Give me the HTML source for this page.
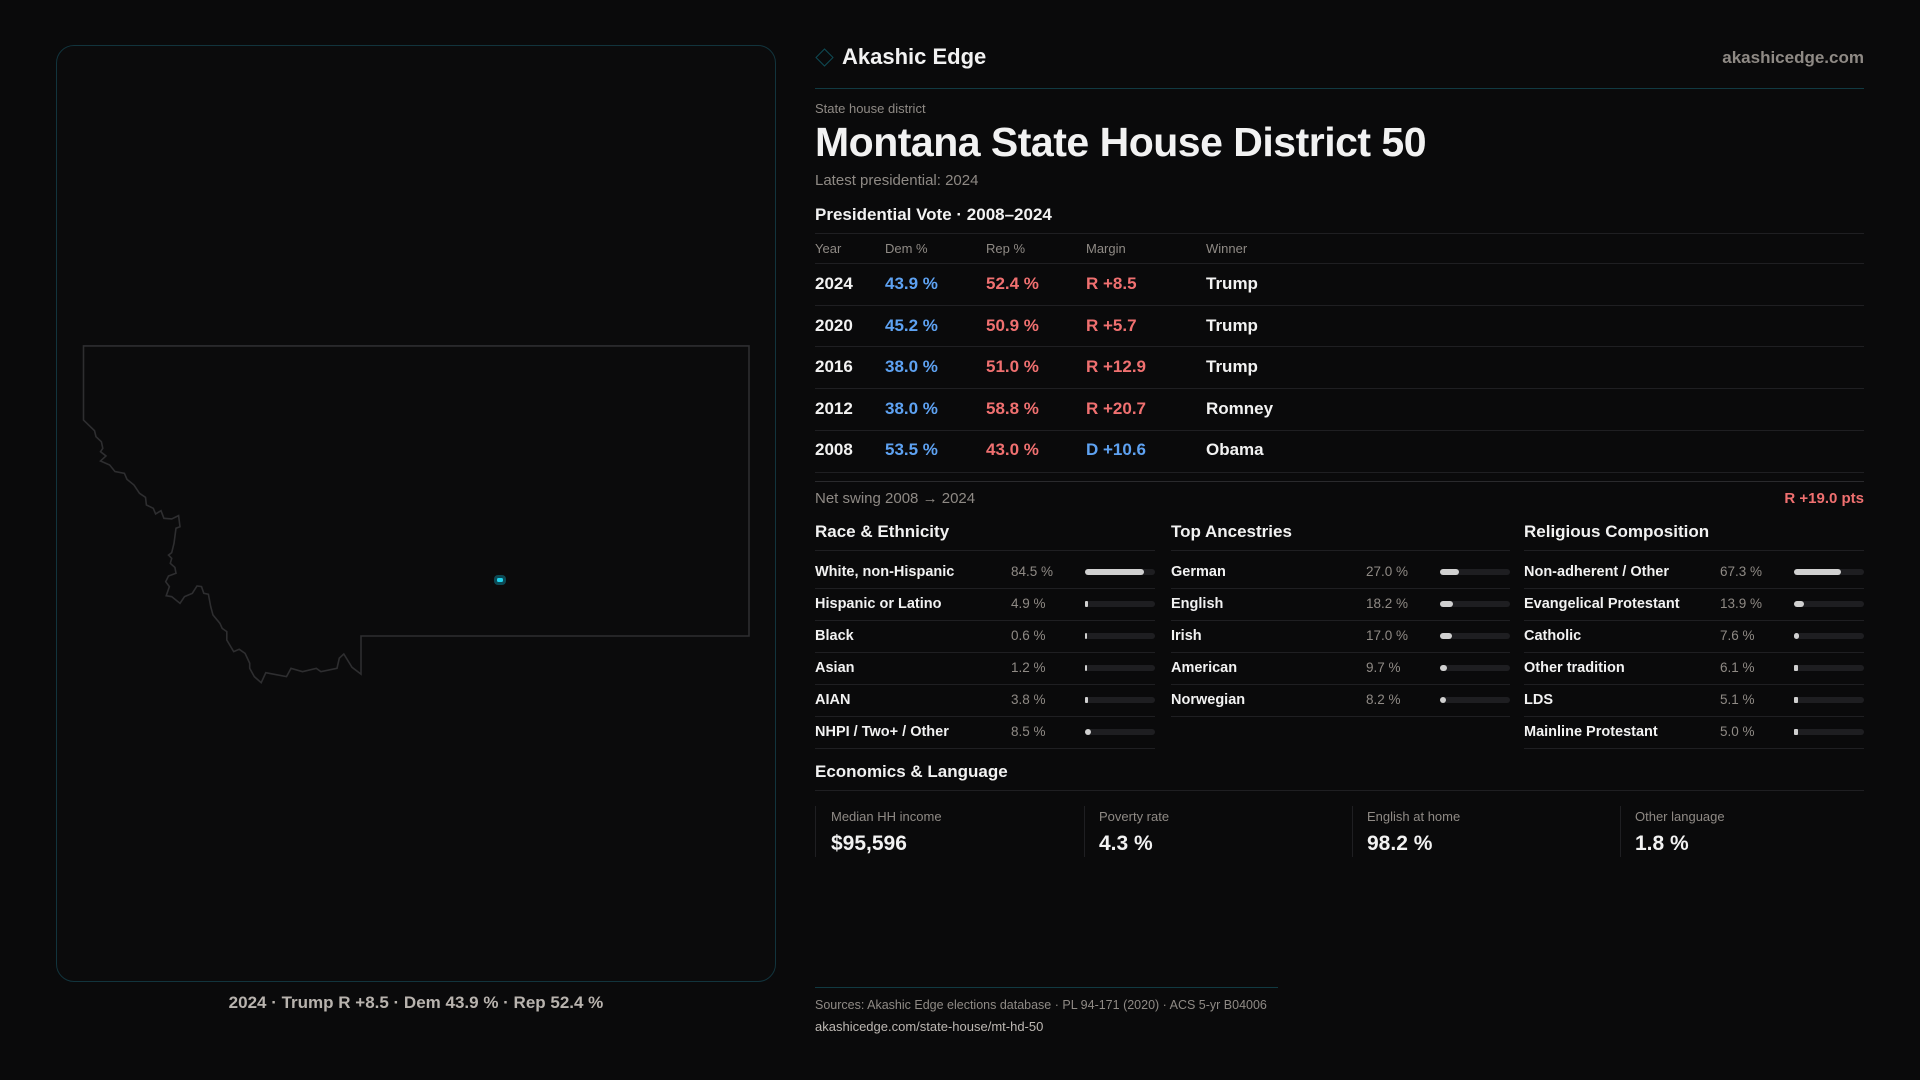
<!DOCTYPE html>
<html><head><meta charset="utf-8"><style>
*{margin:0;padding:0;box-sizing:border-box}
body{width:1920px;height:1080px;background:#0a0a0b;font-family:"Liberation Sans",sans-serif;color:#f2f2f2;position:relative;overflow:hidden}
.a{position:absolute;white-space:nowrap}
.g{color:#8f8a85}
.b{color:#5ea2f2}.r{color:#f07070}
.ln{position:absolute;height:1px;background:#1f1f22}
.sb{font-weight:bold}
.bar{position:absolute;height:6px;border-radius:3px;background:#1e1e21}
.bar i{position:absolute;left:0;top:0;height:6px;border-radius:3px;background:#d0d0d0}
</style></head><body>
<div class="a" style="left:56px;top:45px;width:720px;height:937px;border:1px solid #12343d;border-radius:18px;background:#0b0b0c"></div>
<svg class="a" style="left:0;top:0" width="800" height="1000">
<g transform="translate(0,330) scale(1,0.726) translate(0,-330)">
<path vector-effect="non-scaling-stroke" d="M83.5,352 L749,352 L749,751.5 L361,751.5 L361,804 L352,794.6 L343.8,776.3 L339.3,782 L337,796 L320.9,800.6 L316.3,796 L302.5,800.6 L291,796 L286.5,807.5 L265.8,802 L261.2,815.8 L254.3,807.5 L249.7,796 L249.7,789 L245.1,775.4 L239.2,769.8 L233.7,773 L226.8,757 L226.8,745.5 L222.2,741 L219.9,734 L213,722.6 L210.7,711 L208.4,694 L203.8,692.7 L201.5,683.5 L197,682.6 L192.3,692.7 L184.5,697.3 L180,706.5 L171.7,697.3 L166.2,696 L169.4,683.5 L165.7,676.7 L168.5,668.8 L176,665 L174.9,657 L170.3,651.4 L171.7,644.5 L168.5,640 L171.7,636.7 L174,623.8 L176,603 L180,601 L178.6,585.7 L171.7,590.3 L163.9,589.4 L161,578.9 L155.6,583.4 L153.3,575.6 L146.4,571 L145.5,560.5 L139.5,555 L134,543.5 L127,535.7 L124.4,527.4 L115,525 L109.7,516 L100.5,510.4 L106,503.5 L100.5,497.6 L102.8,493 L101.4,484 L96,477 L94.5,468.7 L83.5,454 Z" fill="#0b0b0c" stroke="#2e2e30" stroke-width="1.6"/>
</g>
<rect x="494" y="575" width="12" height="10" rx="4" fill="#0c4a55"/>
<rect x="497" y="578" width="6" height="4" rx="1.5" fill="#22d3ee"/>
</svg>
<div class="a sb" style="left:0;width:832px;top:993px;text-align:center;font-size:17px;color:#b8b3ae">2024 · Trump R +8.5 · Dem 43.9 % · Rep 52.4 %</div>

<div class="a" style="left:818px;top:51px;width:13px;height:13px;border:1.5px solid #0f4b55;transform:rotate(45deg)"></div>
<div class="a sb" style="left:842px;top:44px;font-size:22px">Akashic Edge</div>
<div class="a sb g" style="right:56px;top:48px;font-size:17px">akashicedge.com</div>
<div class="ln" style="left:815px;width:1049px;top:88px;background:#113a42"></div>
<div class="a g" style="left:815px;top:101px;font-size:13px">State house district</div>
<div class="a sb" style="left:815px;top:119px;font-size:41px;letter-spacing:-0.5px">Montana State House District 50</div>
<div class="a g" style="left:815px;top:172px;font-size:15px">Latest presidential: 2024</div>
<div class="a sb" style="left:815px;top:205px;font-size:17px">Presidential Vote · 2008–2024</div>
<div class="ln" style="left:815px;width:1049px;top:233px"></div>
<div class="a g" style="left:815px;top:241px;font-size:13px">Year</div>
<div class="a g" style="left:885px;top:241px;font-size:13px">Dem %</div>
<div class="a g" style="left:986px;top:241px;font-size:13px">Rep %</div>
<div class="a g" style="left:1086px;top:241px;font-size:13px">Margin</div>
<div class="a g" style="left:1206px;top:241px;font-size:13px">Winner</div>
<div class="ln" style="left:815px;width:1049px;top:263px"></div>
<div class="ln" style="left:815px;width:1049px;top:305px"></div>
<div class="ln" style="left:815px;width:1049px;top:346px"></div>
<div class="ln" style="left:815px;width:1049px;top:388px"></div>
<div class="ln" style="left:815px;width:1049px;top:430px"></div>
<div class="ln" style="left:815px;width:1049px;top:472px"></div>
<div class="ln" style="left:815px;width:1049px;top:481px;background:#2a2a2d"></div>
<div style="font-size:17px;font-weight:bold;line-height:20px">
<div class="a" style="left:815px;top:274px">2024</div><div class="a b" style="left:885px;top:274px">43.9 %</div><div class="a r" style="left:986px;top:274px">52.4 %</div><div class="a r" style="left:1086px;top:274px">R +8.5</div><div class="a" style="left:1206px;top:274px">Trump</div>
<div class="a" style="left:815px;top:316px">2020</div><div class="a b" style="left:885px;top:316px">45.2 %</div><div class="a r" style="left:986px;top:316px">50.9 %</div><div class="a r" style="left:1086px;top:316px">R +5.7</div><div class="a" style="left:1206px;top:316px">Trump</div>
<div class="a" style="left:815px;top:357px">2016</div><div class="a b" style="left:885px;top:357px">38.0 %</div><div class="a r" style="left:986px;top:357px">51.0 %</div><div class="a r" style="left:1086px;top:357px">R +12.9</div><div class="a" style="left:1206px;top:357px">Trump</div>
<div class="a" style="left:815px;top:399px">2012</div><div class="a b" style="left:885px;top:399px">38.0 %</div><div class="a r" style="left:986px;top:399px">58.8 %</div><div class="a r" style="left:1086px;top:399px">R +20.7</div><div class="a" style="left:1206px;top:399px">Romney</div>
<div class="a" style="left:815px;top:440px">2008</div><div class="a b" style="left:885px;top:440px">53.5 %</div><div class="a r" style="left:986px;top:440px">43.0 %</div><div class="a b" style="left:1086px;top:440px">D +10.6</div><div class="a" style="left:1206px;top:440px">Obama</div>
</div>
<div class="a g" style="left:815px;top:490px;font-size:15px">Net swing 2008 → 2024</div>
<div class="a sb r" style="right:56px;top:490px;font-size:15px">R +19.0 pts</div>

<div class="a sb" style="left:815px;top:522px;font-size:17px">Race &amp; Ethnicity</div>
<div class="a sb" style="left:1171px;top:522px;font-size:17px">Top Ancestries</div>
<div class="a sb" style="left:1524px;top:522px;font-size:17px">Religious Composition</div>
<div class="ln" style="left:815px;width:340px;top:550px"></div>
<div class="ln" style="left:1171px;width:339px;top:550px"></div>
<div class="ln" style="left:1524px;width:340px;top:550px"></div>
<div id="rows"></div>
<script>
var cols=[[815,1011,1085,70,[["White, non-Hispanic","84.5 %",84.5],["Hispanic or Latino","4.9 %",4.9],["Black","0.6 %",0.6],["Asian","1.2 %",1.2],["AIAN","3.8 %",3.8],["NHPI / Two+ / Other","8.5 %",8.5]],340],
[1171,1366,1440,70,[["German","27.0 %",27],["English","18.2 %",18.2],["Irish","17.0 %",17],["American","9.7 %",9.7],["Norwegian","8.2 %",8.2]],339],
[1524,1720,1794,70,[["Non-adherent / Other","67.3 %",67.3],["Evangelical Protestant","13.9 %",13.9],["Catholic","7.6 %",7.6],["Other tradition","6.1 %",6.1],["LDS","5.1 %",5.1],["Mainline Protestant","5.0 %",5]],340]];
var h="";
cols.forEach(function(c){c[4].forEach(function(r,i){var y=572+i*31.9;
h+='<div class="a" style="left:'+c[0]+'px;top:'+(y-8)+'px;font-size:14.5px;font-weight:bold">'+r[0]+'</div>';
h+='<div class="a g" style="left:'+c[1]+'px;top:'+(y-8)+'px;font-size:13.5px">'+r[1]+'</div>';
var w=Math.max(2,c[3]*r[2]/100);
h+='<div class="bar" style="left:'+c[2]+'px;top:'+(y-3)+'px;width:'+c[3]+'px"><i style="width:'+w+'px'+(w<5?';border-radius:1px':'')+'"></i></div>';
h+='<div class="ln" style="left:'+c[0]+'px;width:'+c[5]+'px;top:'+(y+16)+'px"></div>';});});
document.getElementById("rows").innerHTML=h;
</script>
<div class="a sb" style="left:815px;top:762px;font-size:17px">Economics &amp; Language</div>
<div class="ln" style="left:815px;width:1049px;top:790px"></div>
<div class="a" style="left:815px;top:806px;width:1px;height:51px;background:#1f1f22"></div>
<div class="a" style="left:1084px;top:806px;width:1px;height:51px;background:#1f1f22"></div>
<div class="a" style="left:1352px;top:806px;width:1px;height:51px;background:#1f1f22"></div>
<div class="a" style="left:1620px;top:806px;width:1px;height:51px;background:#1f1f22"></div>
<div class="a g" style="left:831px;top:809px;font-size:13px">Median HH income</div>
<div class="a g" style="left:1099px;top:809px;font-size:13px">Poverty rate</div>
<div class="a g" style="left:1367px;top:809px;font-size:13px">English at home</div>
<div class="a g" style="left:1635px;top:809px;font-size:13px">Other language</div>
<div class="a sb" style="left:831px;top:832px;font-size:21px">$95,596</div>
<div class="a sb" style="left:1099px;top:832px;font-size:21px">4.3 %</div>
<div class="a sb" style="left:1367px;top:832px;font-size:21px">98.2 %</div>
<div class="a sb" style="left:1635px;top:832px;font-size:21px">1.8 %</div>
<div class="ln" style="left:815px;width:463px;top:987px;background:#113a42"></div>
<div class="a g" style="left:815px;top:998px;font-size:12.5px">Sources: Akashic Edge elections database · PL 94-171 (2020) · ACS 5-yr B04006</div>
<div class="a" style="left:815px;top:1019px;font-size:13px;color:#bdb8b3">akashicedge.com/state-house/mt-hd-50</div>
</body></html>
